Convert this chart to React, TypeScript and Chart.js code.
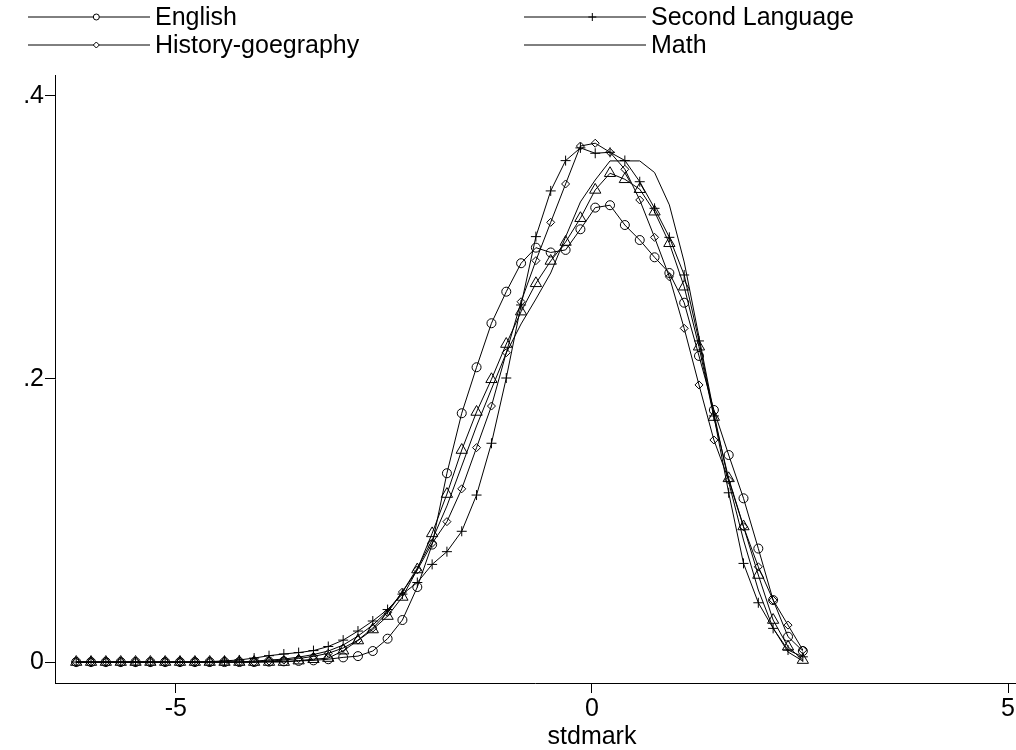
import React, { useEffect, useRef } from "react";
import { Chart, registerables } from "chart.js";

Chart.register(...registerables);

// ---- data -------------------------------------------------------------
const xGrid = [
  -6.198, -6.02, -5.842, -5.663, -5.485, -5.307, -5.129, -4.951, -4.772, -4.594,
  -4.416, -4.238, -4.06, -3.881, -3.703, -3.525, -3.347, -3.169, -2.99, -2.812,
  -2.634, -2.456, -2.278, -2.099, -1.921, -1.743, -1.565, -1.387, -1.208, -1.03,
  -0.852, -0.674, -0.496, -0.317, -0.139, 0.039, 0.217, 0.395, 0.574, 0.752,
  0.93, 1.108, 1.286, 1.465, 1.643, 1.821, 1.999, 2.177, 2.356, 2.534,
];

const english = [
  0, 0, 0, 0, 0, 0, 0, 0, 0, 0,
  0, 0, 0, 0.0003, 0.0005, 0.0008, 0.0012, 0.002, 0.0033, 0.0042,
  0.0078, 0.0165, 0.0297, 0.053, 0.083, 0.1334, 0.1758, 0.2083, 0.2394, 0.2617,
  0.2818, 0.2928, 0.2894, 0.2912, 0.3058, 0.3211, 0.3228, 0.3088, 0.2982, 0.286,
  0.2749, 0.2539, 0.2163, 0.1781, 0.1463, 0.1157, 0.0802, 0.0438, 0.0179, 0.0078,
];

const secondLanguage = [
  0, 0, 0, 0, 0, 0, 0, 0, 0, 0.0003,
  0.0008, 0.0015, 0.0028, 0.0045, 0.0057, 0.0067, 0.0081, 0.011, 0.0155, 0.0219,
  0.029, 0.0371, 0.048, 0.0562, 0.069, 0.078, 0.0924, 0.118, 0.1546, 0.2007,
  0.2523, 0.3006, 0.3329, 0.3543, 0.3633, 0.3595, 0.3602, 0.3544, 0.3394, 0.3206,
  0.3001, 0.2735, 0.2269, 0.1739, 0.1196, 0.0697, 0.0419, 0.0238, 0.0085, 0.0037,
];

const historyGeography = [
  0, 0, 0, 0, 0, 0, 0, 0, 0, 0,
  0, 0, 0, 0.0007, 0.0014, 0.0025, 0.004, 0.0062, 0.0099, 0.0155,
  0.024, 0.035, 0.0495, 0.0651, 0.0839, 0.0992, 0.1224, 0.1515, 0.1809, 0.2186,
  0.2546, 0.2836, 0.3107, 0.3378, 0.3646, 0.3666, 0.3602, 0.3482, 0.3265, 0.3001,
  0.2722, 0.2358, 0.1958, 0.1569, 0.1286, 0.0956, 0.0673, 0.0438, 0.0261, 0.0085,
];

const math = [
  0, 0, 0, 0, 0, 0, 0, 0, 0, 0,
  0, 0, 0.0007, 0.0014, 0.0021, 0.0035, 0.0053, 0.0078, 0.012, 0.0184,
  0.0261, 0.036, 0.0495, 0.0664, 0.0862, 0.1103, 0.1385, 0.1668, 0.1929, 0.2184,
  0.2389, 0.2565, 0.2749, 0.3004, 0.3251, 0.3406, 0.3541, 0.3541, 0.3541, 0.3459,
  0.323, 0.2827, 0.2297, 0.176, 0.1272, 0.0862, 0.0509, 0.024, 0.0071, 0.0007,
];

// fifth plotted series (triangle markers, no legend key)
const triangleSeries = [
  0, 0, 0, 0, 0, 0, 0, 0, 0, 0,
  0, 0, 0, 0, 0, 0.001, 0.002, 0.0028, 0.008, 0.0152,
  0.023, 0.0325, 0.046, 0.0654, 0.0909, 0.1187, 0.1498, 0.1767, 0.1998, 0.2247,
  0.2476, 0.2676, 0.2834, 0.2968, 0.3136, 0.3336, 0.3454, 0.3411, 0.3341, 0.3182,
  0.2959, 0.2652, 0.2228, 0.1731, 0.1298, 0.0958, 0.0615, 0.0297, 0.0108, 0.0014,
];

const seriesLabels = ["English", "Second Language", "History-goegraphy", "Math"];
const xTickValues = [-5, 0, 5];
const yTickValues = [0, 0.2, 0.4];
const yTickLabels = ["0", ".2", ".4"];
const xAxisTitle = "stdmark";

// ---- styling ------------------------------------------------------------
const FONT = "'Liberation Sans', Arial, Helvetica, sans-serif";
const INK = "#000";
const TEXT_SIZE = 25;

type Marker = "circle" | "cross" | "rectRot" | "triangle" | "none";

function drawKeyMarker(ctx: CanvasRenderingContext2D, m: Marker, x: number, y: number) {
  ctx.beginPath();
  if (m === "circle") {
    ctx.arc(x, y, 3, 0, Math.PI * 2);
  } else if (m === "cross") {
    ctx.moveTo(x - 4, y);
    ctx.lineTo(x + 4, y);
    ctx.moveTo(x, y - 4);
    ctx.lineTo(x, y + 4);
  } else if (m === "rectRot") {
    ctx.moveTo(x - 3, y);
    ctx.lineTo(x, y - 3);
    ctx.lineTo(x + 3, y);
    ctx.lineTo(x, y + 3);
    ctx.closePath();
  } else {
    return;
  }
  ctx.fillStyle = "#fff";
  if (m !== "cross") ctx.fill();
  ctx.stroke();
}

const legendKeys: { label: string; marker: Marker; col: number; row: number }[] = [
  { label: seriesLabels[0], marker: "circle", col: 0, row: 0 },
  { label: seriesLabels[1], marker: "cross", col: 1, row: 0 },
  { label: seriesLabels[2], marker: "rectRot", col: 0, row: 1 },
  { label: seriesLabels[3], marker: "none", col: 1, row: 1 },
];

const stataDecor = {
  id: "stataDecor",
  afterDraw(chart: any) {
    const ctx: CanvasRenderingContext2D = chart.ctx;
    const colX = [28, 524];
    const rowY = [17, 45];
    const lineLen = 122;
    ctx.save();
    ctx.strokeStyle = INK;
    ctx.lineWidth = 1;
    ctx.font = `${TEXT_SIZE}px ${FONT}`;
    ctx.fillStyle = INK;
    ctx.textBaseline = "middle";
    for (const k of legendKeys) {
      const x0 = colX[k.col];
      const y = rowY[k.row];
      ctx.beginPath();
      ctx.moveTo(x0, y);
      ctx.lineTo(x0 + lineLen, y);
      ctx.stroke();
      drawKeyMarker(ctx, k.marker, x0 + lineLen * 0.56, y);
      ctx.fillStyle = INK;
      ctx.textAlign = "left";
      ctx.fillText(k.label, x0 + lineLen + 5, y + 1);
    }
    // x-axis title, centred under the zero tick like the original
    const xs = chart.scales.x;
    ctx.textAlign = "center";
    ctx.fillText(xAxisTitle, xs.getPixelForValue(0), 737);
    ctx.restore();
  },
};

function pts(ys: number[]) {
  return xGrid.map((x, i) => ({ x, y: ys[i] }));
}

function lineDs(label: string, ys: number[], pointStyle: any, radius: number) {
  return {
    label,
    data: pts(ys),
    borderColor: INK,
    borderWidth: 1,
    backgroundColor: "rgba(0,0,0,0)",
    pointBorderColor: INK,
    pointBackgroundColor: "rgba(0,0,0,0)",
    pointBorderWidth: 1,
    pointStyle,
    pointRadius: radius,
    tension: 0,
    fill: false,
  };
}

export default function App() {
  const ref = useRef<HTMLCanvasElement | null>(null);

  useEffect(() => {
    if (!ref.current) return;
    const chart = new Chart(ref.current, {
      type: "line",
      data: {
        datasets: [
          lineDs(seriesLabels[0], english, "circle", 4.5),
          lineDs(seriesLabels[1], secondLanguage, "cross", 5),
          lineDs(seriesLabels[2], historyGeography, "rectRot", 4),
          lineDs(seriesLabels[3], math, false, 0),
          lineDs("", triangleSeries, "triangle", 6.5),
        ] as any,
      },
      plugins: [stataDecor],
      options: {
        animation: false,
        responsive: false,
        events: [],
        layout: { autoPadding: false, padding: { top: 75, left: 0, right: 0, bottom: 0 } },
        plugins: {
          legend: { display: false },
          tooltip: { enabled: false },
          title: { display: false },
        },
        scales: {
          x: {
            type: "linear",
            min: -6.453,
            max: 5.084,
            afterBuildTicks: (s: any) => {
              s.ticks = xTickValues.map((v) => ({ value: v }));
            },
            afterFit: (s: any) => {
              s.height = 67;
            },
            ticks: {
              color: INK,
              font: { family: FONT, size: TEXT_SIZE },
              padding: 1,
              maxRotation: 0,
              callback: (v: any) => String(v),
            },
            grid: {
              display: true,
              drawOnChartArea: false,
              drawTicks: true,
              tickLength: 10,
              color: INK,
              lineWidth: 1,
            },
            border: { display: true, color: INK, width: 1 },
            title: { display: false },
          },
          y: {
            type: "linear",
            min: -0.0148,
            max: 0.4148,
            afterBuildTicks: (s: any) => {
              s.ticks = yTickValues.map((v) => ({ value: v }));
            },
            afterFit: (s: any) => {
              s.width = 55;
            },
            ticks: {
              color: INK,
              font: { family: FONT, size: TEXT_SIZE },
              padding: 1,
              callback: (v: any) => {
                const i = yTickValues.indexOf(Number(v));
                return i >= 0 ? yTickLabels[i] : "";
              },
            },
            grid: {
              display: true,
              drawOnChartArea: false,
              drawTicks: true,
              tickLength: 10,
              color: INK,
              lineWidth: 1,
            },
            border: { display: true, color: INK, width: 1 },
          },
        },
      } as any,
    });
    return () => chart.destroy();
  }, []);

  return (
    <div style={{ position: "absolute", left: 0, top: 0, width: 1016, height: 750, background: "#fff" }}>
      <canvas ref={ref} width={1016} height={750} style={{ width: 1016, height: 750, display: "block" }} />
    </div>
  );
}
